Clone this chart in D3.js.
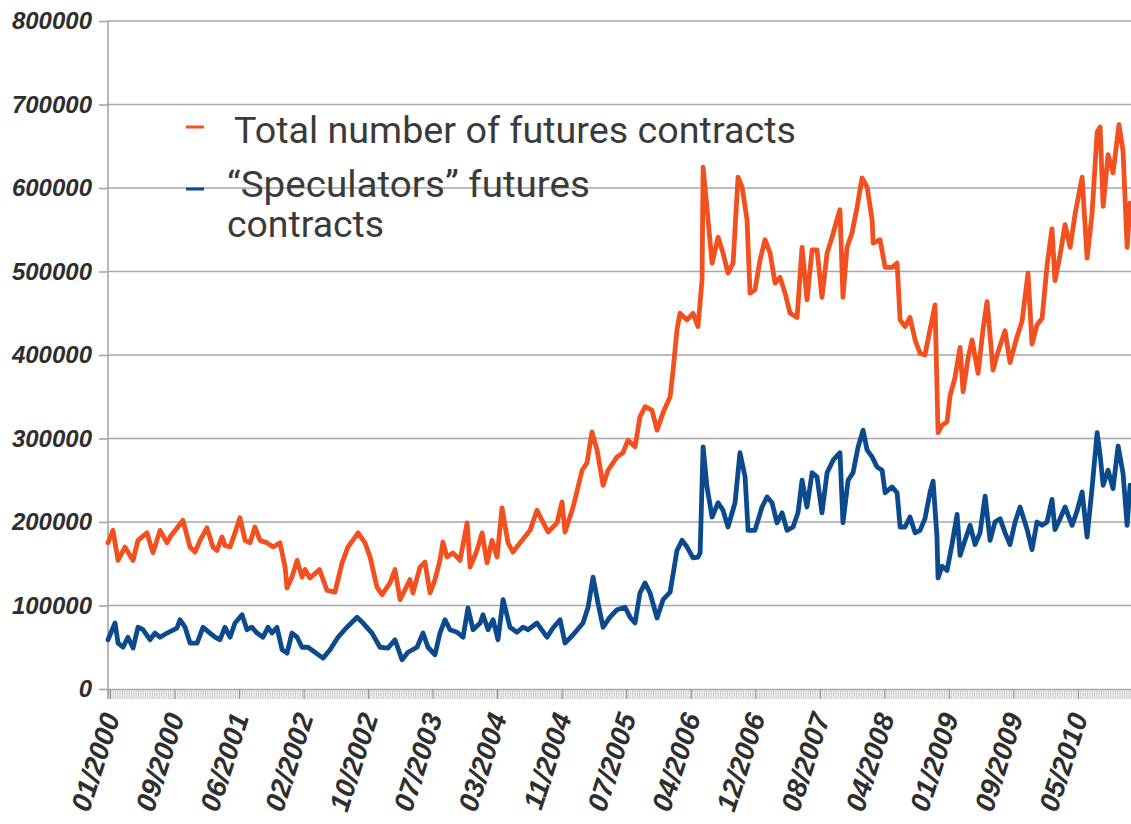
<!DOCTYPE html>
<html><head><meta charset="utf-8">
<script src="https://cdn.jsdelivr.net/npm/d3@7"></script>
<style>body{margin:0;background:#fff}svg{display:block}</style>
</head><body><svg id="c" width="1131" height="824"></svg>
<script>
// values in thousands of contracts; x = sample index (weekly reports from 01/2000)
const yTicks = [0,100,200,300,400,500,600,700,800];
const yTickLabels = ["0","100000","200000","300000","400000","500000","600000","700000","800000"];
const xLabels = ["01/2000","09/2000","06/2001","02/2002","10/2002","07/2003","03/2004","11/2004","07/2005","04/2006","12/2006","08/2007","04/2008","01/2009","09/2009","05/2010"];
const xLabelIndex = [1.1,37.7,74.3,110.9,147.5,184,220.6,257.2,293.8,330.4,367,403.6,440.2,476.7,513.3,549.9];
const legendLabels = ["Total number of futures contracts", "\u201cSpeculators\u201d futures", "contracts"];

const totalPoints = [[0,175],[2.8,190],[5.7,154],[9.6,170],[14.2,154],[17,178],[22.1,187],[25.5,163],[29.5,190],[33.5,175],[35.2,182],[42.5,202],[46.5,170],[49.3,164],[52.2,178],[56.1,193],[59.5,170],[61.8,166],[64.6,182],[66.3,172],[69.2,170],[72,187],[74.8,205],[77.7,178],[80.5,175],[83.3,194],[86.2,178],[90.2,175],[93.6,170],[97.5,175],[100.4,146],[101.5,121],[104.3,134],[107.2,154],[110,134],[111.7,143],[114.5,133],[119.9,143],[124.2,118],[128.7,116],[132.7,151],[136,170],[141.8,187],[145.7,175],[148.6,158],[152.5,122],[155.4,113],[159.9,127],[162.7,143],[165.6,107],[168.4,119],[171.2,131],[172.9,115],[176.9,146],[179.7,152],[182.6,115],[185.4,131],[188.2,154],[189.9,176],[192.2,158],[195.6,163],[199.6,154],[203.6,199],[205.3,146],[209.2,166],[212.1,187],[214.9,151],[217.7,178],[220.6,158],[223.4,217],[226.8,175],[229.6,164],[233.6,175],[239.3,190],[243.2,214],[246.1,202],[249.5,188],[254.6,199],[257.4,224],[259.1,188],[263.7,218],[268.8,262],[271.6,271],[274.4,308],[277.3,286],[280.7,244],[283.5,262],[288.6,278],[292,283],[294.8,298],[298.8,290],[301.6,326],[304.5,338],[308.4,334],[311.3,310],[314.7,331],[318.7,350],[320.4,382],[322.6,430],[324.3,450],[328.3,442],[331.7,450],[334.5,434],[336.8,490],[337.4,625],[340.2,562],[342.5,510],[345.9,541],[348.7,522],[351.5,498],[354.4,510],[357.2,613],[359.5,601],[362.3,562],[364,474],[366.8,478],[369.7,514],[372.5,538],[375.4,522],[378.2,486],[381,493],[383.9,474],[386.7,450],[390.7,445],[393.5,529],[396.3,466],[399.2,526],[402,526],[404.8,469],[407.7,522],[410.5,541],[413.3,562],[415,574],[416.7,469],[419,529],[421.8,546],[424.7,577],[427.5,612],[430.4,601],[433.2,562],[433.8,534],[437.7,538],[440.6,505],[444.5,505],[447.4,510],[449.1,442],[451.9,434],[454.7,445],[457.6,418],[460.4,402],[463.2,400],[466.1,431],[468.9,460],[470.6,307],[472.9,316],[475.7,320],[477.4,351],[480.2,373],[483.1,409],[484.8,356],[487.6,396],[489.9,418],[493.3,378],[496.1,431],[498.4,464],[501.8,382],[504.6,404],[508.6,429],[511.4,391],[515.4,422],[518.2,440],[521.6,498],[523.9,413],[526.7,436],[529.6,444],[532.4,507],[535.2,551],[536.9,489],[539.8,520],[542.6,556],[545.5,529],[548.3,569],[552.3,613],[555.1,516],[557.9,569],[560.8,667],[562.5,673],[564.2,578],[567,640],[569.8,618],[573.2,676],[575.5,644],[577.8,529],[579.5,582]];

const specPoints = [[0,59],[4,79],[5.7,55],[8.5,50],[11.3,62],[14.2,49],[17,74],[19.8,71],[23.8,59],[26.6,67],[29.5,62],[33.5,67],[39.1,73],[40.8,83],[43.7,74],[46.5,55],[50.5,55],[53.9,74],[57.8,67],[60.7,62],[63.5,59],[66.3,74],[69.2,62],[72,79],[76,89],[78.8,71],[81.6,74],[84.5,67],[87.9,62],[90.7,74],[93,67],[95.8,74],[98.7,47],[101.5,43],[104.3,67],[107.2,62],[110,50],[113.4,50],[121.9,37],[125.9,47],[130.4,62],[135.5,74],[141.2,86],[144.6,79],[149.7,67],[154.2,50],[158.8,49],[162.7,59],[166.7,35],[170.1,44],[175.2,50],[178.6,67],[181.4,50],[185.4,41],[188.2,67],[191.1,83],[193.9,71],[197.9,68],[201.3,62],[204.1,97],[207,71],[211,79],[212.6,89],[215.5,71],[218.3,83],[221.1,59],[224,107],[227.9,74],[231.9,68],[235.3,74],[238.1,71],[243.2,79],[248.9,62],[252.3,73],[256.3,83],[259.1,55],[263.7,65],[269.3,79],[272.2,98],[275,134],[277.8,103],[280.7,74],[284.6,86],[288.6,95],[293.1,98],[296,86],[298.8,79],[301.6,115],[304.5,127],[307.3,115],[311.3,85],[314.7,107],[318.7,116],[322.6,166],[325.5,178],[328.3,170],[331.7,157],[334.5,158],[335.7,163],[337.4,290],[339.6,242],[342.5,206],[345.9,223],[348.7,214],[351.5,194],[355.5,223],[358.3,283],[361.2,254],[362.9,190],[366.8,190],[370.8,218],[373.7,230],[376.5,223],[379.3,199],[382.2,211],[385,190],[388.4,194],[391.2,211],[393.5,250],[396.3,218],[399.2,259],[402,254],[404.8,211],[407.7,259],[411.1,274],[415,283],[416.7,199],[419.6,250],[422.4,259],[425.3,290],[428.1,310],[430.4,286],[433.2,278],[436,266],[438.9,262],[440.6,235],[444.5,242],[447.4,235],[449.1,194],[451.9,194],[454.7,206],[457.6,187],[460.4,190],[463.2,204],[466.1,236],[467.8,249],[470,182],[470.6,133],[472.9,147],[475.7,142],[478.5,173],[481.4,209],[483.1,160],[485.9,178],[488.8,196],[491.6,173],[494.4,187],[497.3,231],[500.1,178],[502.9,200],[505.8,204],[508.6,187],[511.4,173],[514.3,200],[517.1,218],[521.1,191],[523.9,167],[526.7,200],[529.6,196],[532.4,200],[535.2,227],[536.9,191],[539.8,204],[542.6,218],[546.6,196],[549.4,213],[552.3,236],[555.1,182],[557.9,240],[560.8,307],[562.5,280],[564.2,244],[567,262],[569.8,240],[572.7,291],[575.5,258],[577.8,196],[579.5,244]];

const pLeft = 108, pRight = 1131, pTop = 21, pBottom = 689;
const svg = d3.select("#c");
const x = d3.scaleLinear().domain([0, 580]).range([pLeft, pRight]);
const y = d3.scaleLinear().domain([0, 800]).range([pBottom, pTop]);

const ORANGE = "#f2501e", BLUE = "#0c4a8e", GRID = "#a6a6a6", TXT = "#2e2e2e";

// gridlines
svg.append("g").selectAll("line").data(yTicks.filter(d => d > 0)).join("line")
  .attr("x1", pLeft).attr("x2", pRight)
  .attr("y1", d => y(d)).attr("y2", d => y(d))
  .attr("stroke", GRID).attr("stroke-width", 1.6);

// minor ticks on x axis (one per weekly report)
const xAxis = svg.append("g").attr("transform", `translate(0,${pBottom})`)
  .call(d3.axisBottom(x).tickValues(d3.range(0, 581)).tickSize(10).tickFormat(""));
xAxis.select(".domain").attr("stroke", GRID).attr("stroke-width", 1.6);
xAxis.selectAll(".tick line").attr("stroke", "#b4b4b4").attr("stroke-width", 0.7);

// labelled ticks slightly darker
svg.append("g").attr("transform", `translate(0,${pBottom})`)
  .call(d3.axisBottom(x).tickValues(xLabelIndex).tickSize(10).tickFormat(""))
  .call(g => g.select(".domain").remove())
  .selectAll(".tick line").attr("stroke", "#8a8a8a").attr("stroke-width", 1);

// y axis
const yAxis = svg.append("g").attr("transform", `translate(${pLeft},0)`)
  .call(d3.axisLeft(y).tickValues(yTicks).tickSize(9).tickPadding(7)
    .tickFormat((d, i) => yTickLabels[i]));
yAxis.select(".domain").attr("stroke", GRID).attr("stroke-width", 1.6).attr("d", `M0,${pTop}V${pBottom + 10}`);
yAxis.selectAll(".tick line").attr("stroke", GRID).attr("stroke-width", 1.6);
yAxis.selectAll(".tick text")
  .attr("font-family", "'Liberation Sans', Arial, sans-serif")
  .attr("font-weight", "bold").attr("font-style", "italic")
  .attr("font-size", 24).attr("fill", TXT);

// x labels
svg.append("g").selectAll("text").data(xLabels).join("text")
  .attr("transform", (d, i) => `translate(${x(xLabelIndex[i]) + 1},${pBottom + 25}) rotate(-72)`)
  .attr("text-anchor", "end").attr("dy", "0.35em")
  .attr("font-family", "'Liberation Sans', Arial, sans-serif")
  .attr("font-weight", "bold").attr("font-style", "italic")
  .attr("font-size", 28).attr("fill", TXT)
  .text(d => d);

// lines
const line = d3.line().x(d => x(d[0])).y(d => y(d[1]));
svg.append("path").datum(totalPoints).attr("d", line)
  .attr("fill", "none").attr("stroke", ORANGE).attr("stroke-width", 4.8)
  .attr("stroke-linejoin", "round").attr("stroke-linecap", "round");
svg.append("path").datum(specPoints).attr("d", line)
  .attr("fill", "none").attr("stroke", BLUE).attr("stroke-width", 4.8)
  .attr("stroke-linejoin", "round").attr("stroke-linecap", "round");

// legend
const lg = svg.append("g");
lg.append("line").attr("x1", 186).attr("x2", 204).attr("y1", 127).attr("y2", 127)
  .attr("stroke", ORANGE).attr("stroke-width", 3);
lg.append("line").attr("x1", 186).attr("x2", 204).attr("y1", 189).attr("y2", 189)
  .attr("stroke", BLUE).attr("stroke-width", 3);
const lt = [[234, 143, 562], [227, 197, 363], [227, 237, 157]];
lg.selectAll("text").data(legendLabels).join("text")
  .attr("x", (d, i) => lt[i][0]).attr("y", (d, i) => lt[i][1])
  .attr("textLength", (d, i) => lt[i][2]).attr("lengthAdjust", "spacingAndGlyphs")
  .attr("font-family", "Roboto, 'Open Sans', sans-serif")
  .attr("font-size", 37).attr("fill", "#3a3a3a")
  .text(d => d);
</script>
</body></html>
